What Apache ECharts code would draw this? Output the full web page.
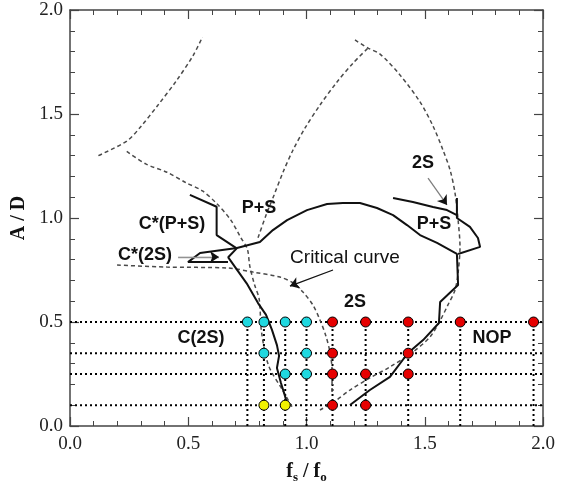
<!DOCTYPE html>
<html><head><meta charset="utf-8">
<script src="https://cdn.jsdelivr.net/npm/echarts@6/dist/echarts.min.js"></script>
<style>html,body{margin:0;padding:0;background:#fff}#c{width:568px;height:484px}</style>
</head><body><div id="c"></div>
<script>
// ---- data ----
const rowLevels = [0.5, 0.35, 0.25, 0.1];
const columnXs = [0.75, 0.82, 0.91, 1.0, 1.11, 1.25, 1.43, 1.65, 1.96];
const cyanPoints = [[0.75,0.5],[0.82,0.5],[0.91,0.5],[1.0,0.5],[0.82,0.35],[1.0,0.35],[0.91,0.25],[1.0,0.25]];
const redPoints = [[1.11,0.5],[1.25,0.5],[1.43,0.5],[1.65,0.5],[1.96,0.5],[1.11,0.35],[1.43,0.35],[1.11,0.25],[1.25,0.25],[1.43,0.25],[1.11,0.1],[1.25,0.1]];
const yellowPoints = [[0.82,0.1],[0.91,0.1]];

const dashUpperLeft = [[0.12,1.30],[0.24,1.37],[0.30,1.44],[0.37,1.54],[0.45,1.66],[0.52,1.78],[0.56,1.87]];
const dashLeft = [[0.24,1.32],[0.32,1.26],[0.41,1.22],[0.49,1.17],[0.56,1.13],[0.62,1.07],[0.68,0.99],[0.72,0.91],[0.75,0.85],[0.76,0.77],[0.78,0.68],[0.80,0.61],[0.81,0.45],[0.84,0.29],[0.90,0.17],[0.94,0.09]];
const dashLoopLeft = [[0.795,0.905],[0.829,1.014],[0.863,1.111],[0.901,1.221],[0.943,1.327],[0.994,1.433],[1.057,1.543],[1.129,1.654],[1.197,1.745],[1.260,1.817]];
const dashLoopRight = [[1.205,1.856],[1.260,1.817],[1.311,1.788],[1.395,1.688],[1.480,1.558],[1.535,1.442],[1.577,1.327],[1.607,1.231],[1.628,1.120],[1.641,0.990],[1.649,0.861],[1.641,0.736],[1.628,0.654],[1.598,0.582],[1.564,0.505],[1.522,0.428],[1.450,0.356],[1.353,0.284],[1.268,0.231],[1.184,0.173],[1.121,0.120],[1.057,0.077]];
const dashC2S = [[0.199,0.774],[0.410,0.764],[0.664,0.760],[0.774,0.740],[0.888,0.716],[0.943,0.688],[0.985,0.644],[1.027,0.582],[1.057,0.510],[1.082,0.433],[1.099,0.356],[1.108,0.269],[1.108,0.163]];

const solidCPS = [[0.507,1.111],[0.620,1.054],[0.620,0.918],[0.705,0.854],[0.669,0.811],[0.747,0.686],[0.795,0.591],[0.829,0.534],[0.854,0.462],[0.875,0.389],[0.884,0.337],[0.875,0.279],[0.892,0.207],[0.909,0.144],[0.918,0.106]];
const solidCritical = [[0.668,0.788],[0.499,0.788],[0.550,0.832],[0.706,0.856],[0.803,0.885],[0.858,0.942],[0.918,0.990],[1.002,1.038],[1.087,1.067],[1.154,1.072],[1.226,1.072],[1.298,1.048],[1.366,1.014],[1.425,0.966],[1.480,0.918],[1.552,0.880],[1.636,0.827],[1.641,0.678],[1.565,0.596],[1.560,0.495],[1.493,0.413],[1.429,0.351],[1.353,0.236],[1.268,0.173],[1.184,0.101]];
const solid2SUpper = [[1.366,1.096],[1.450,1.077],[1.535,1.053],[1.594,1.038],[1.636,1.014]];
const solidPSRight = [[1.636,1.096],[1.636,1.0],[1.691,0.957],[1.725,0.904],[1.734,0.861],[1.641,0.827]];

const arrowCritical = [[1.112,0.75],[0.930,0.673]];
const arrow2S = [[1.514,1.192],[1.594,1.063]];
const arrowC2S = [[0.457,0.8125],[0.630,0.8125]];

const xTickLabels = ['0.0','0.5','1.0','1.5','2.0'];
const yTickLabels = ['0.0','0.5','1.0','1.5','2.0'];

// ---- chart ----
const chart = echarts.init(document.getElementById('c'));
const serif = "'Liberation Serif', 'Times New Roman', serif";
const sans = "'Liberation Sans', Arial, Helvetica, sans-serif";
const axisColor = '#444';

function axisBase(extra) {
  return Object.assign({
    type: 'value', min: 0, max: 2, interval: 0.5,
    axisLine: { show: true, onZero: false, lineStyle: { color: axisColor, width: 1.5 } },
    axisTick: { show: true, inside: true, length: 9, lineStyle: { color: axisColor, width: 1.2 } },
    minorTick: { show: true, splitNumber: 5, length: 5, lineStyle: { color: axisColor, width: 1 } },
    splitLine: { show: false },
    axisLabel: { show: false }
  }, extra);
}

const series = [];
function dotted(data) {
  series.push({ type: 'line', data: data, symbol: 'none', silent: true, z: 1,
    lineStyle: { color: '#000', width: 2, type: [2, 3] } });
}
rowLevels.forEach(v => dotted([[0, v], [2, v]]));
const allPts = cyanPoints.concat(redPoints, yellowPoints);
columnXs.forEach(x => {
  const top = Math.max.apply(null, allPts.filter(p => Math.abs(p[0] - x) < 1e-9).map(p => p[1]));
  dotted([[x, 0], [x, top]]);
});
function dashed(data) {
  series.push({ type: 'line', data: data, symbol: 'none', smooth: 0.3, silent: true, z: 2,
    lineStyle: { color: '#4a4a4a', width: 1.5, type: [4, 3] } });
}
[dashUpperLeft, dashLeft, dashLoopLeft, dashLoopRight, dashC2S].forEach(dashed);
function solid(data) {
  series.push({ type: 'line', data: data, symbol: 'none', silent: true, z: 3,
    lineStyle: { color: '#111', width: 2 } });
}
[solidCPS, solidCritical, solid2SUpper, solidPSRight].forEach(solid);

// arrow: shaft in shaftColor, arrowhead in black
function arrow(coords, shaftColor) {
  series.push({ type: 'lines', coordinateSystem: 'cartesian2d', z: 4, silent: true,
    symbol: ['none', 'none'],
    lineStyle: { color: shaftColor, width: 1.3, opacity: 1, curveness: 0 },
    data: [{ coords: coords }] });
  series.push({ type: 'lines', coordinateSystem: 'cartesian2d', z: 4, silent: true,
    symbol: ['none', 'arrow'], symbolSize: [0, 9],
    lineStyle: { color: '#111', width: 0.1, opacity: 1, curveness: 0 },
    data: [{ coords: coords }] });
}
arrow(arrowCritical, '#111');
arrow(arrow2S, '#888');
arrow(arrowC2S, '#999');

function pts(data, color) {
  series.push({ type: 'scatter', data: data, symbol: 'circle', symbolSize: 10, z: 5,
    itemStyle: { color: color, borderColor: '#000', borderWidth: 1, opacity: 1 } });
}
pts(cyanPoints, '#1fd8e0');
pts(redPoints, '#e60000');
pts(yellowPoints, '#f2f200');

function label(text, x, y, bold, size) {
  return { type: 'text', x: x, y: y, z: 10,
    style: { text: text, fill: '#111', font: (bold ? 'bold ' : '') + size + 'px ' + sans,
      textAlign: 'center', textVerticalAlign: 'middle' } };
}

chart.setOption({
  animation: false,
  backgroundColor: '#fff',
  grid: { left: 70, top: 10, right: 25, bottom: 58, containLabel: false, outerBoundsMode: 'none' },
  xAxis: [
    axisBase({ position: 'bottom',
      axisLabel: { show: true, margin: 9, color: '#222', fontFamily: serif, fontSize: 19,
        formatter: v => xTickLabels[Math.round(v / 0.5)] },
      name: '{i|f}{sub|s}{i| / f}{sub|o}', nameLocation: 'middle', nameGap: 33,
      nameTextStyle: { rich: {
        i: { fontFamily: serif, fontWeight: 'bold', fontSize: 20, color: '#111' },
        sub: { fontFamily: serif, fontWeight: 'bold', fontSize: 13, color: '#111', padding: [12, 0, 0, 0] } } } }),
    axisBase({ position: 'top' })
  ],
  yAxis: [
    axisBase({ position: 'left',
      axisLabel: { show: true, margin: 7, color: '#222', fontFamily: serif, fontSize: 19,
        formatter: v => yTickLabels[Math.round(v / 0.5)] },
      name: 'A / D', nameLocation: 'middle', nameGap: 36, nameRotate: 90,
      nameTextStyle: { fontFamily: serif, fontWeight: 'bold', fontSize: 20, color: '#111' } }),
    axisBase({ position: 'right' })
  ],
  series: series,
  graphic: [
    label('C*(P+S)', 172, 224, true, 18),
    label('C*(2S)', 145, 255, true, 18),
    label('P+S', 259, 208, true, 18),
    label('Critical curve', 345, 258, false, 19),
    label('2S', 355, 302, true, 18),
    label('2S', 423, 163, true, 18),
    label('P+S', 434, 224, true, 18),
    label('C(2S)', 201, 338, true, 18),
    label('NOP', 492, 338, true, 18)
  ]
});
</script></body></html>
